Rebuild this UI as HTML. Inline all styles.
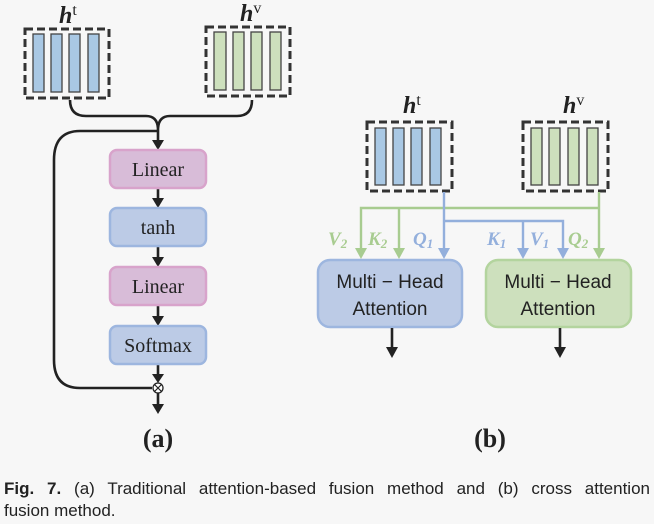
<!DOCTYPE html>
<html><head><meta charset="utf-8"><style>
body{margin:0;background:#f7f7f7;width:654px;height:524px;overflow:hidden;position:relative}
.cap{position:absolute;left:4px;width:646px;font-family:"Liberation Sans Narrow","Liberation Sans",sans-serif;font-size:17px;line-height:22px;color:#222;white-space:nowrap}
.l1{top:478px;text-align:justify;text-align-last:justify;white-space:normal}
.l2{top:500px}
</style></head><body>
<svg width="654" height="470" style="position:absolute;left:0;top:0" font-family="Liberation Serif,serif">
<g stroke="#333" stroke-width="3" stroke-dasharray="8,4" fill="none">
<rect x="25" y="29" width="84" height="69"/>
<rect x="206" y="27" width="84" height="69"/>
<rect x="367" y="122" width="85" height="69"/>
<rect x="523" y="122" width="85" height="69"/>
</g>
<g stroke="#444" stroke-width="1.3" fill="#a9c8e4">
<rect x="33" y="34" width="11" height="58"/><rect x="51" y="34" width="11" height="58"/><rect x="69" y="34" width="11" height="58"/><rect x="88" y="34" width="11" height="58"/>
<rect x="375" y="128" width="11" height="57"/><rect x="393" y="128" width="11" height="57"/><rect x="411" y="128" width="11" height="57"/><rect x="430" y="128" width="11" height="57"/>
</g>
<g stroke="#444" stroke-width="1.3" fill="#cde0bd">
<rect x="214" y="32" width="12" height="58"/><rect x="233" y="32" width="11" height="58"/><rect x="251" y="32" width="11" height="58"/><rect x="270" y="32" width="11" height="58"/>
<rect x="531" y="128" width="11" height="57"/><rect x="549" y="128" width="11" height="57"/><rect x="568" y="128" width="11" height="57"/><rect x="587" y="128" width="11" height="57"/>
</g>
<g font-family="Liberation Serif,serif" font-weight="bold" font-style="italic" font-size="24" fill="#222">
<text x="59" y="23">h<tspan font-style="normal" font-weight="normal" font-size="16" dy="-8">t</tspan></text>
<text x="240" y="21">h<tspan font-style="normal" font-weight="normal" font-size="16" dy="-8">v</tspan></text>
<text x="403" y="113">h<tspan font-style="normal" font-weight="normal" font-size="16" dy="-8">t</tspan></text>
<text x="563" y="113">h<tspan font-style="normal" font-weight="normal" font-size="16" dy="-8">v</tspan></text>
</g>
<g stroke="#222" stroke-width="2.6" fill="none">
<path d="M70,100 Q70,116 86,116 L146,116 Q158,116 158,130 Q158,116 170,116 L237,116 Q252,116 252,100"/>
<path d="M158,131 L80,131 Q54,131 54,160 L54,360 Q54,388 80,388 L152,388"/>
<line x1="158" y1="130" x2="158" y2="142"/>
<line x1="158" y1="188" x2="158" y2="200"/>
<line x1="158" y1="246" x2="158" y2="259"/>
<line x1="158" y1="305" x2="158" y2="318"/>
<line x1="158" y1="364" x2="158" y2="376"/>
<line x1="158" y1="393" x2="158" y2="405"/>
</g>
<g fill="#222">
<path d="M152,140 L164,140 L158,150 z"/>
<path d="M152,198 L164,198 L158,208 z"/>
<path d="M152,257 L164,257 L158,267 z"/>
<path d="M152,316 L164,316 L158,326 z"/>
<path d="M152,374 L164,374 L158,383 z"/>
<path d="M152,404 L164,404 L158,414 z"/>
</g>
<circle cx="158" cy="388" r="5" fill="#fff" stroke="#222" stroke-width="1.3"/>
<path d="M154.5,384.5 L161.5,391.5 M161.5,384.5 L154.5,391.5" stroke="#222" stroke-width="1.2"/>
<g stroke-width="2.5">
<rect x="110" y="150" width="96" height="38" rx="7" fill="#d8bcd8" stroke="#d8a3cb"/>
<rect x="110" y="208" width="96" height="38" rx="7" fill="#bccbe6" stroke="#9db6df"/>
<rect x="110" y="267" width="96" height="38" rx="7" fill="#d8bcd8" stroke="#d8a3cb"/>
<rect x="110" y="326" width="96" height="38" rx="7" fill="#bccbe6" stroke="#9db6df"/>
</g>
<g font-size="20" fill="#222" text-anchor="middle">
<text x="158" y="176">Linear</text>
<text x="158" y="234">tanh</text>
<text x="158" y="293">Linear</text>
<text x="158" y="352">Softmax</text>
</g>
<text x="158" y="447" font-size="26" font-weight="bold" text-anchor="middle" fill="#222">(a)</text>
<text x="490" y="447" font-size="26" font-weight="bold" text-anchor="middle" fill="#222">(b)</text>
<g stroke="#a8cc90" stroke-width="2.4" fill="none">
<path d="M599,192 L599,250 M599,208 L361,208 L361,250 M399,208 L399,250"/>
</g>
<g stroke="#93afdc" stroke-width="2.4" fill="none">
<path d="M444,192 L444,250 M444,221 L563,221 L563,250 M523,221 L523,250"/>
</g>
<g fill="#a8cc90"><path d="M355,248 L367,248 L361,259 z"/><path d="M393,248 L405,248 L399,259 z"/><path d="M593,248 L605,248 L599,259 z"/></g>
<g fill="#93afdc"><path d="M438,248 L450,248 L444,259 z"/><path d="M517,248 L529,248 L523,259 z"/><path d="M557,248 L569,248 L563,259 z"/></g>
<g font-size="19" font-weight="bold" font-style="italic">
<text x="328" y="245" fill="#a8cc90">V<tspan font-size="13" dy="3">2</tspan></text>
<text x="368" y="245" fill="#a8cc90">K<tspan font-size="13" dy="3">2</tspan></text>
<text x="413" y="245" fill="#93afdc">Q<tspan font-size="13" dy="3">1</tspan></text>
<text x="487" y="245" fill="#93afdc">K<tspan font-size="13" dy="3">1</tspan></text>
<text x="530" y="245" fill="#93afdc">V<tspan font-size="13" dy="3">1</tspan></text>
<text x="568" y="245" fill="#a8cc90">Q<tspan font-size="13" dy="3">2</tspan></text>
</g>
<rect x="318" y="260" width="144" height="67" rx="12" fill="#bccbe6" stroke="#9db6df" stroke-width="2.5"/>
<rect x="486" y="260" width="145" height="67" rx="12" fill="#cde0bd" stroke="#b3d49e" stroke-width="2.5"/>
<g font-family="Liberation Sans,sans-serif" font-size="19" fill="#222" text-anchor="middle">
<text x="390" y="288">Multi − Head</text><text x="390" y="315">Attention</text>
<text x="558" y="288">Multi − Head</text><text x="558" y="315">Attention</text>
</g>
<g stroke="#222" stroke-width="2.6"><line x1="392" y1="328" x2="392" y2="348"/><line x1="560" y1="328" x2="560" y2="348"/></g>
<g fill="#222"><path d="M386,347 L398,347 L392,358 z"/><path d="M554,347 L566,347 L560,358 z"/></g>
</svg>
<div class="cap l1"><b>Fig. 7.</b> (a) Traditional attention-based fusion method and (b) cross attention</div>
<div class="cap l2">fusion method.</div>
</body></html>
